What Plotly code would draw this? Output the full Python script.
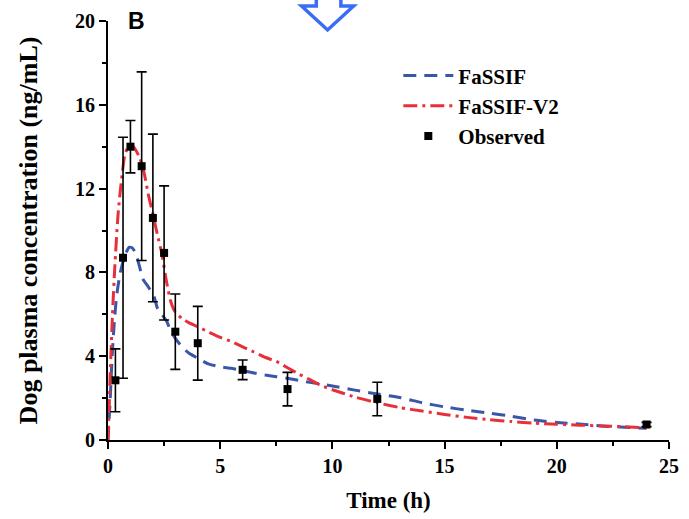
import plotly.graph_objects as go

# Simulated plasma profiles (time in h, concentration in ng/mL)
fassif_t = [0, 0.1, 0.2, 0.3, 0.4, 0.55, 0.75, 0.95, 1.1, 1.25, 1.4, 1.55, 1.8, 2.05,
            2.2, 2.4, 2.6, 2.8, 3.0, 3.3, 3.6, 4.0, 4.5, 5.0, 5.5, 6.0, 6.5, 7.0, 7.5,
            8.0, 9.0, 10.0, 11.0, 12.0, 13.0, 14.0, 15.0, 16.0, 17.0, 18.0, 19.0,
            20.0, 21.0, 22.0, 23.0, 24.0]
fassif_c = [0, 2.0, 4.3, 5.9, 7.0, 8.0, 8.8, 9.2, 9.15, 8.85, 8.3, 7.7, 7.3, 6.85,
            6.3, 6.0, 5.7, 5.2, 4.85, 4.45, 4.15, 3.9, 3.62, 3.5, 3.42, 3.32, 3.2, 3.1,
            3.02, 2.95, 2.75, 2.58, 2.38, 2.2, 2.03, 1.78, 1.58, 1.42, 1.28, 1.13,
            0.95, 0.84, 0.76, 0.67, 0.61, 0.56]

fassif_v2_t = [0, 0.05, 0.1, 0.2, 0.3, 0.45, 0.6, 0.75, 0.9, 1.05, 1.2, 1.4, 1.6, 1.8,
               2.0, 2.2, 2.4, 2.6, 2.8, 3.0, 3.3, 3.6, 4.0, 4.5, 5.0, 5.5, 6.0, 6.5,
               7.0, 7.5, 8.0, 8.5, 9.0, 9.5, 10.0, 11.0, 12.0, 13.0, 14.0, 15.0, 16.0,
               17.0, 18.0, 19.0, 20.0, 21.0, 22.0, 23.0, 24.0]
fassif_v2_c = [0, 1.5, 3.2, 6.0, 8.2, 10.8, 12.4, 13.6, 14.0, 14.1, 13.9, 13.5, 12.8,
               11.7, 10.8, 9.8, 8.9, 7.6, 6.6, 6.1, 5.8, 5.6, 5.4, 5.15, 4.9, 4.7, 4.45,
               4.2, 3.95, 3.75, 3.45, 3.15, 2.88, 2.6, 2.4, 2.05, 1.78, 1.55, 1.38, 1.22,
               1.08, 0.97, 0.88, 0.8, 0.75, 0.71, 0.67, 0.63, 0.58]

# Observed mean concentrations with SD
obs_t = [0.33, 0.67, 1.0, 1.5, 2.0, 2.5, 3.0, 4.0, 6.0, 8.0, 12.0, 24.0]
obs_c = [2.85, 8.7, 14.0, 13.07, 10.6, 8.93, 5.17, 4.62, 3.35, 2.43, 1.96, 0.74]
obs_sd = [1.5, 5.75, 1.25, 4.5, 4.0, 3.2, 1.8, 1.76, 0.47, 0.8, 0.8, 0.1]

x_ticks = [0, 5, 10, 15, 20, 25]
y_ticks = [0, 4, 8, 12, 16, 20]

serif = "Liberation Serif"
obs_marker = dict(symbol="square", size=8, color="black")
blue_line = dict(color="#3a56a8", width=3, dash="13px,8px", shape="spline", smoothing=0.6)
red_line = dict(color="#e8303a", width=3, dash="14px,5px,3px,5px", shape="spline", smoothing=0.6)

fig = go.Figure()
fig.add_trace(go.Scatter(x=fassif_t, y=fassif_c, mode="lines", name="FaSSIF",
                         line=blue_line))
fig.add_trace(go.Scatter(x=fassif_v2_t, y=fassif_v2_c, mode="lines", name="FaSSIF-V2",
                         line=red_line))
fig.add_trace(go.Scatter(
    x=obs_t, y=obs_c, mode="markers", name="Observed", showlegend=False,
    marker=obs_marker,
    error_y=dict(type="data", array=obs_sd, visible=True, color="black",
                 thickness=1.6, width=5),
))
# legend entry for the observed data (square only, without the error-bar glyph)
fig.add_trace(go.Scatter(x=[None], y=[None], mode="markers", name="Observed",
                         marker=obs_marker))

axis_common = dict(
    showline=True, linecolor="black", linewidth=2,
    ticks="outside", ticklen=7, tickwidth=2, tickcolor="black",
    showgrid=False, zeroline=False, mirror=False,
    tickfont=dict(family=serif, size=20, color="black", weight="bold"),
)

fig.update_xaxes(
    range=[0, 25], tickvals=x_ticks, ticktext=[str(v) for v in x_ticks],
    minor=dict(ticks="outside", dtick=2.5, tick0=0, ticklen=4, tickwidth=2, tickcolor="black"),
    title=dict(text="Time (h)", font=dict(family=serif, size=23, color="black", weight="bold"),
               standoff=16),
    **axis_common,
)
fig.update_yaxes(
    range=[0, 20], tickvals=y_ticks, ticktext=[str(v) for v in y_ticks],
    minor=dict(ticks="outside", dtick=2, tick0=0, ticklen=4, tickwidth=2, tickcolor="black"),
    title=dict(text="Dog plasma concentration (ng/mL)",
               font=dict(family=serif, size=26, color="black", weight="bold"),
               standoff=30),
    **axis_common,
)

# Panel letter
fig.add_annotation(
    text="B", xref="paper", yref="paper", x=0.05, y=1.0, xanchor="center", yanchor="middle",
    showarrow=False, font=dict(family="Liberation Sans", size=23, color="black", weight="bold"),
)

# Hollow arrow fragment entering from the top edge
fig.add_shape(
    type="path", xref="paper", yref="paper",
    path="M 0.3713 1.06 L 0.3713 1.036 L 0.3450 1.036 L 0.3914 0.9787 "
         "L 0.4378 1.036 L 0.4151 1.036 L 0.4151 1.06",
    line=dict(color="#3b6cf6", width=3.5), fillcolor="rgba(0,0,0,0)",
)

fig.update_layout(
    width=689, height=519,
    margin=dict(l=108, r=10, t=19, b=78),
    paper_bgcolor="white", plot_bgcolor="white",
    showlegend=True,
    legend=dict(
        x=0.5175, y=0.918, xanchor="left", yanchor="top",
        bgcolor="rgba(0,0,0,0)", borderwidth=0,
        font=dict(family=serif, size=21, color="black", weight="bold"),
        itemwidth=50, tracegroupgap=0,
    ),
)

fig.write_html("out.html")
